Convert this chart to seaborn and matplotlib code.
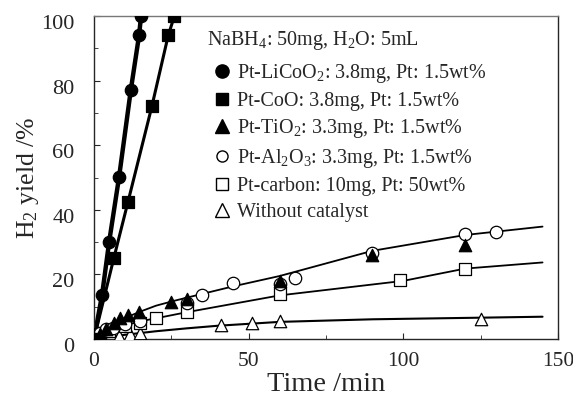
import matplotlib
matplotlib.use("Agg")
import matplotlib.pyplot as plt
import matplotlib.transforms as mtransforms
import seaborn as sns
from matplotlib.lines import Line2D
from matplotlib.ticker import MultipleLocator

# ---- data ----
licoo2_t = [0, 2.6, 4.9, 8.1, 11.9, 14.6, 15.2]
licoo2_y = [0, 13.6, 30.1, 50.1, 77.1, 94.2, 100]

coo_t = [0, 6.4, 11.0, 18.7, 24.0, 26.0]
coo_y = [0, 25.0, 42.5, 72.0, 94.0, 100]

tio2_t = [0, 2, 4, 6.5, 8.5, 11, 14.5, 25, 30, 60, 90, 120]
tio2_y = [0, 1.5, 3, 5, 6.5, 7.5, 8.5, 11.5, 12.5, 18, 26, 29]

al2o3_t = [0, 2, 4, 6, 10, 15, 30, 35, 45, 60, 65, 90, 120, 130]
al2o3_y = [0, 2, 3, 3.5, 4.5, 5.5, 11, 13.5, 17.3, 17, 18.8, 26.5, 32.5, 33.2]

carbon_t = [0, 2, 5, 10, 15, 20, 30, 60, 99, 120]
carbon_y = [0, 1.5, 2.5, 4, 5, 6.4, 8.3, 13.8, 18.3, 21.6]

nocat_t = [0, 8, 11.5, 15, 41, 51, 60, 125]
nocat_y = [0, 1.0, 1.5, 2.0, 4.2, 4.8, 5.5, 6.3]

# fitted guide curves drawn in the reference
fit_upper_t = [0, 5, 10, 15, 20, 25, 30, 45, 60, 90, 120, 145]
fit_upper_y = [0, 4, 6.5, 8.5, 10.3, 11.6, 12.8, 16.3, 19.5, 27.3, 32.2, 34.8]
fit_carbon_t = [0, 5, 10, 15, 20, 30, 60, 100, 120, 145]
fit_carbon_y = [0, 2.5, 4.2, 5.5, 6.4, 8.3, 13.5, 18.0, 21.8, 23.7]
fit_nocat_t = [0, 10, 20, 30, 40, 60, 90, 125, 145]
fit_nocat_y = [0, 1.3, 2.4, 3.3, 4.1, 5.3, 6.1, 6.6, 6.9]

labels = [
    "Pt-LiCoO$_2$: 3.8mg, Pt: 1.5wt%",
    "Pt-CoO: 3.8mg, Pt: 1.5wt%",
    "Pt-TiO$_2$: 3.3mg, Pt: 1.5wt%",
    "Pt-Al$_2$O$_3$: 3.3mg, Pt: 1.5wt%",
    "Pt-carbon: 10mg, Pt: 50wt%",
    "Without catalyst",
]

sns.set_style("ticks")
plt.rcParams['font.family'] = ['Liberation Serif', 'DejaVu Serif']
plt.rcParams['mathtext.fontset'] = 'custom'
plt.rcParams['mathtext.rm'] = 'Liberation Serif'
plt.rcParams['mathtext.it'] = 'Liberation Serif:italic'

fig = plt.figure(figsize=(5.73, 4.08), dpi=100)
ax = fig.add_axes([94/573, 1-339/408, (558-94)/573, (339-16)/408])

lines = [
    (licoo2_t, licoo2_y, 3.2),
    (coo_t, coo_y, 2.2),
    (fit_upper_t, fit_upper_y, 1.3),
    (fit_carbon_t, fit_carbon_y, 1.3),
    (fit_nocat_t, fit_nocat_y, 1.5),
]
for t, y, lw in lines:
    sns.lineplot(x=t, y=y, ax=ax, color="black", lw=lw, sort=False,
                 estimator=None, legend=False, zorder=2)

series = [
    (nocat_t, nocat_y, "^", "white"),
    (carbon_t, carbon_y, "s", "white"),
    (al2o3_t, al2o3_y, "o", "white"),
    (tio2_t, tio2_y, "^", "black"),
    (coo_t, coo_y, "s", "black"),
    (licoo2_t, licoo2_y, "o", "black"),
]
for t, y, m, fc in series:
    sns.scatterplot(x=t, y=y, ax=ax, marker=m, s=80, color=fc,
                    edgecolor="black", linewidth=0.9, legend=False, zorder=3)

ax.set_xlim(0, 150)
ax.set_ylim(0, 100)
ax.xaxis.set_major_locator(MultipleLocator(50))
ax.xaxis.set_minor_locator(MultipleLocator(25))
ax.yaxis.set_major_locator(MultipleLocator(20))
ax.yaxis.set_minor_locator(MultipleLocator(10))
ax.tick_params(which="both", direction="in", labelsize=16)
ax.tick_params(axis="x", pad=9, labelsize=15.5)
ax.tick_params(axis="y", pad=14)
ax.tick_params(which="major", length=4)
ax.tick_params(which="minor", length=3)
for s in ax.spines.values():
    s.set_visible(True)
    s.set_linewidth(1.0)
ax.spines["top"].set_color("#777777")

ax.set_xlabel("Time /min", fontsize=20.5, labelpad=1)
ax.set_ylabel("H$_2$ yield /%", fontsize=18.5, labelpad=0)

# y tick labels in the reference sit a few pixels below their ticks
offset = mtransforms.ScaledTranslation(0, -6/100, fig.dpi_scale_trans)
for lab in ax.get_yticklabels():
    lab.set_transform(lab.get_transform() + offset)
# keep the last x tick label inside the figure, as in the reference
xlabs = ax.get_xticklabels()
shift = mtransforms.ScaledTranslation(-8/100, 0, fig.dpi_scale_trans)
xlabs[-1].set_transform(xlabs[-1].get_transform() + shift)

handles = [
    Line2D([], [], ls="none", marker="o", ms=9.5, mfc="black", mec="black"),
    Line2D([], [], ls="none", marker="s", ms=9, mfc="black", mec="black"),
    Line2D([], [], ls="none", marker="^", ms=9.5, mfc="black", mec="black"),
    Line2D([], [], ls="none", marker="o", ms=8, mfc="white", mec="black"),
    Line2D([], [], ls="none", marker="s", ms=8.5, mfc="white", mec="black"),
    Line2D([], [], ls="none", marker="^", ms=9.5, mfc="white", mec="black"),
]
ax.text(207/573, 1-40/408, "NaBH$_4$: 50mg, H$_2$O: 5mL", transform=fig.transFigure,
        fontsize=14.5, va="center", ha="left")
leg = ax.legend(handles, labels, loc="upper left",
                bbox_to_anchor=(200/573, 1-50/408), bbox_transform=fig.transFigure,
                frameon=False, fontsize=14.5, handletextpad=0.25,
                labelspacing=0.33, handlelength=1.0, borderpad=0.1)

fig.savefig("out.png", dpi=100)
